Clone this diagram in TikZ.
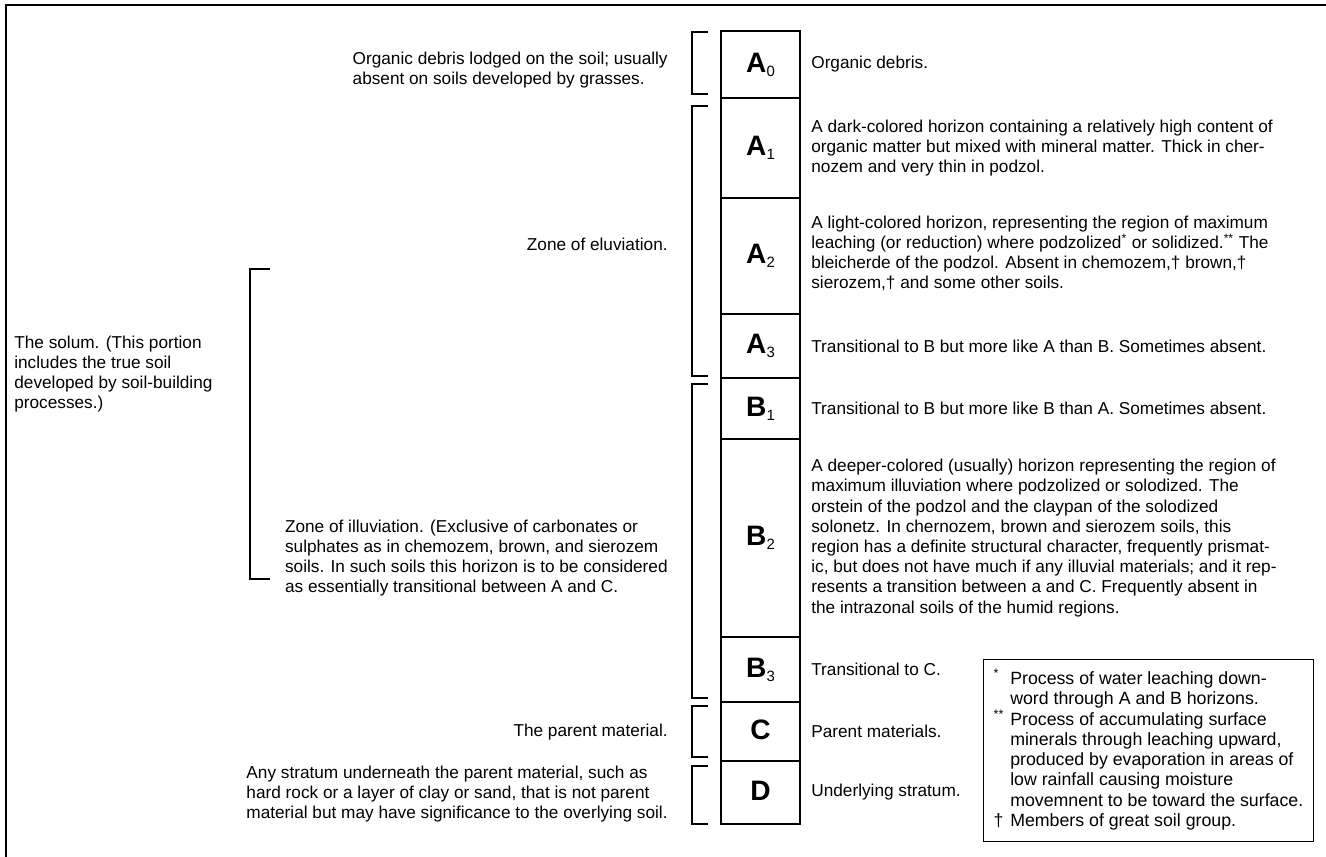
\documentclass[tikz,border=0pt]{standalone}
\usepackage{fontspec}
\setmainfont{Liberation Sans}
\usetikzlibrary{positioning}

\newcommand{\hz}[2]{{\fontsize{16}{18}\selectfont\bfseries #1}\raisebox{-0.45ex}{\fontsize{8.5}{9}\selectfont #2}}

\begin{document}
\begin{tikzpicture}[x=0.2mm,y=-0.2mm,
  hor/.style={draw, line width=1.1pt, minimum width=15.8mm, outer sep=0pt, inner sep=0pt},
  desc/.style={font=\fontsize{9.8}{11.5}\selectfont, align=left, inner sep=0pt},
  brk/.style={line width=0.8pt},
  frame/.style={line width=1.2pt}]
  \useasboundingbox (0,0) rectangle (1326,857);
  \draw[frame] (1326,5) -- (6,5) -- (6,857);

  %horizon column
  \node[hor, minimum height=13.4mm, anchor=north] (a0) at (760.5,31) {\hz{A}{0}};
  \node[hor, minimum height=20mm, below=0pt of a0] (a1) {\hz{A}{1}};
  \node[hor, minimum height=23.2mm, below=0pt of a1] (a2) {\hz{A}{2}};
  \node[hor, minimum height=12.8mm, below=0pt of a2] (a3) {\hz{A}{3}};
  \node[hor, minimum height=12.2mm, below=0pt of a3] (b1) {\hz{B}{1}};
  \node[hor, minimum height=39.6mm, below=0pt of b1] (b2) {\hz{B}{2}};
  \node[hor, minimum height=13mm, below=0pt of b2] (b3) {\hz{B}{3}};
  \node[hor, minimum height=11.8mm, below=0pt of b3] (c) {\hz{C}{}};
  \node[hor, minimum height=12.6mm, below=0pt of c] (d) {\hz{D}{}};

  %descriptions, right side
  \node[desc, right=2.2mm of a0] (a0d) {Organic debris.};
  \node[desc, right=2.2mm of a1] (a1d) {A dark-colored horizon containing a relatively high content of\\
    organic matter but mixed with mineral matter.  Thick in cher-\\
    nozem and very thin in podzol.};
  \node[desc, right=2.2mm of a2, yshift=0.5mm] (a2d) {A light-colored horizon, representing the region of maximum\\
    leaching (or reduction) where podzolized\textsuperscript{*} or solidized.\textsuperscript{**}  The\\
    bleicherde of the podzol.  Absent in chemozem,† brown,†\\
    sierozem,† and some other soils.};
  \node[desc, right=2.2mm of a3] (a3d) {Transitional to B but more like A than B.  Sometimes absent.};
  \node[desc, right=2.2mm of b1] (b1d) {Transitional to B but more like B than A.  Sometimes absent.};
  \node[desc, right=2.2mm of b2] (b2d) {A deeper-colored (usually) horizon representing the region of\\
    maximum illuviation where podzolized or solodized.  The\\
    orstein of the podzol and the claypan of the solodized\\
    solonetz.  In chernozem, brown and sierozem soils, this\\
    region has a definite structural character, frequently prismat-\\
    ic, but does not have much if any illuvial materials; and it rep-\\
    resents a transition between a and C.  Frequently absent in\\
    the intrazonal soils of the humid regions.};
  \node[desc, right=2.2mm of b3] (b3d) {Transitional to C.};
  \node[desc, right=2.2mm of c] (cd) {Parent materials.};
  \node[desc, right=2.2mm of d] (dd) {Underlying stratum.};

  %brackets next to the column
  \draw[brk] ([shift={(-13,1)}]a0.north west) -- ++(-16,0) |- ([shift={(-13,-4)}]a0.south west);
  \draw[brk] ([shift={(-13,8)}]a1.north west) -- ++(-16,0) |- ([shift={(-13,-2)}]a3.south west);
  \draw[brk] ([shift={(-13,6)}]b1.north west) -- ++(-16,0) |- ([shift={(-13,-4)}]b3.south west);
  \draw[brk] ([shift={(-13,4)}]c.north west) -- ++(-16,0) |- ([shift={(-13,-4)}]c.south west);
  \draw[brk] ([shift={(-13,5)}]d.north west) -- ++(-16,0) |- ([shift={(-13,0)}]d.south west);
  %solum bracket
  \draw[brk] (270,269) -- (250,269) -- (250,579) -- (270,579);

  %left side texts
  \node[desc, anchor=east] (lorg) at (668,70) {Organic debris lodged on the soil; usually\\
    absent on soils developed by grasses.};
  \node[desc, anchor=east] (lelu) at (668,244) {Zone of eluviation.};
  \node[desc, anchor=west] (lsolum) at (14,374) {The solum. (This portion\\
    includes the true soil\\
    developed by soil-building\\
    processes.)};
  \node[desc, anchor=east] (lillu) at (668,558) {Zone of illuviation. (Exclusive of carbonates or\\
    sulphates as in chemozem, brown, and sierozem\\
    soils.  In such soils this horizon is to be considered\\
    as essentially transitional between A and C.};
  \node[desc, anchor=east] (lpar) at (668,732) {The parent material.};
  \node[desc, anchor=east] (lstrat) at (668,794) {Any stratum underneath the parent material, such as\\
    hard rock or a layer of clay or sand, that is not parent\\
    material but may have significance to the overlying soil.};

  %footnotes
  \node[draw, line width=0.8pt, anchor=north west, minimum width=64.4mm, minimum height=36.4mm,
    inner xsep=2mm, font=\fontsize{10.1}{11.5}\selectfont] (notes) at (983,659) {%
    \begin{tabular}{@{}l@{\hspace{1.2mm}}l@{}}
      \textsuperscript{*} & Process of water leaching down-\\
      & word through A and B horizons.\\
      \textsuperscript{**} & Process of accumulating surface\\
      & minerals through leaching upward,\\
      & produced by evaporation in areas of\\
      & low rainfall causing moisture\\
      & movemnent to be toward the surface.\\
      † & Members of great soil group.
    \end{tabular}};
\end{tikzpicture}
\end{document}
